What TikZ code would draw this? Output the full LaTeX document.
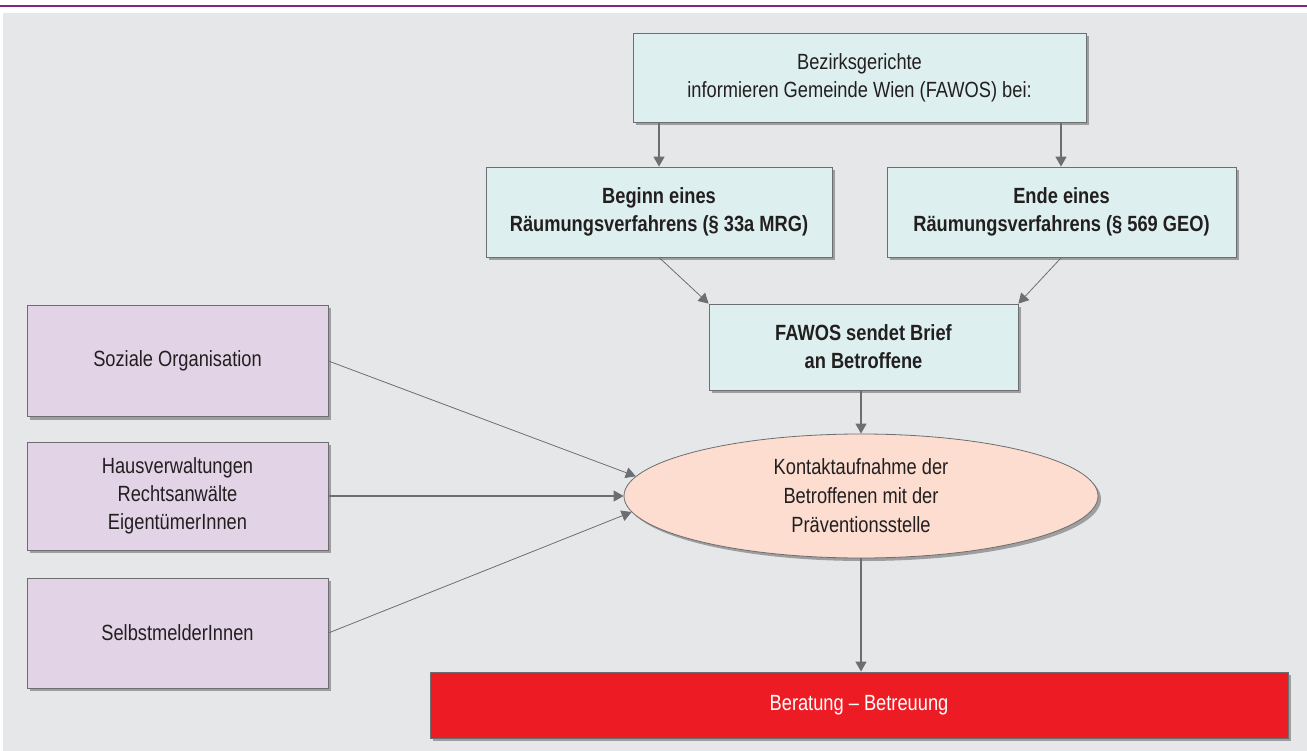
\documentclass[tikz,border=0pt]{standalone}
\usepackage{fontspec}
\setmainfont{Liberation Sans}[FakeStretch=0.83]
\usetikzlibrary{arrows.meta,shapes.geometric,shadows}
\definecolor{bg}{HTML}{E6E7E8}
\definecolor{cyanbox}{HTML}{DDF0EF}
\definecolor{purplebox}{HTML}{E3D3E6}
\definecolor{peach}{HTML}{FCDDD0}
\definecolor{redbox}{HTML}{ED1C24}
\definecolor{edge}{HTML}{6D6E71}
\definecolor{txt}{HTML}{231F20}
\definecolor{topline}{HTML}{84257F}
\tikzset{
  shad/.style={drop shadow={shadow xshift=3pt,shadow yshift=-3pt,fill=black!45,opacity=0.8}},
  cbox/.style={draw=edge,line width=0.8pt,fill=cyanbox,shad,inner sep=0pt,align=center,text=txt,font=\fontsize{22}{28}\selectfont},
  pbox/.style={draw=edge,line width=0.8pt,fill=purplebox,shad,inner sep=0pt,align=center,text=txt,font=\fontsize{22}{28}\selectfont},
  boldtxt/.style={font=\fontsize{22}{28}\selectfont\bfseries},
  arr/.style={draw=edge,line width=1.4pt,-{Triangle[width=11pt,length=10pt]}},
  thinarr/.style={draw=edge,line width=0.8pt,-{Triangle[width=11pt,length=10pt]}},
}
\begin{document}
\begin{tikzpicture}[x=1pt,y=-1pt]
\useasboundingbox (0,0) rectangle (1307,751);
\fill[white] (0,0) rectangle (1307,751);
\fill[bg] (3,13) rectangle (1307,751);
\draw[topline,line width=2pt] (0,6) -- (1307,6);
% top box
\node[cbox,minimum width=453pt,minimum height=89pt] (top) at (859.5,77.5) {Bezirksgerichte\\informieren Gemeinde Wien (FAWOS) bei:};
\node[cbox,boldtxt,minimum width=346pt,minimum height=90pt] (beg) at (659,212) {Beginn eines\\Räumungsverfahrens (§ 33a MRG)};
\node[cbox,boldtxt,minimum width=349pt,minimum height=90pt] (end) at (1061.5,212) {Ende eines\\Räumungsverfahrens (§ 569 GEO)};
\node[cbox,boldtxt,minimum width=309pt,minimum height=86pt] (fawos) at (863.5,347) {FAWOS sendet Brief\\an Betroffene};
\node[ellipse,draw=edge,line width=0.8pt,fill=peach,shad,inner sep=0pt,minimum width=474pt,minimum height=124pt,align=center,text=txt,font=\fontsize{22}{29}\selectfont] (kontakt) at (861,496) {Kontaktaufnahme der\\Betroffenen mit der\\Präventionsstelle};
\node[draw=edge,line width=0.8pt,fill=redbox,shad,inner sep=0pt,minimum width=858pt,minimum height=66pt,text=white,font=\fontsize{22}{28}\selectfont] (ber) at (859,705) {Beratung -- Betreuung};
\node[pbox,minimum width=301pt,minimum height=111pt] (soz) at (177.5,361) {Soziale Organisation};
\node[pbox,minimum width=301pt,minimum height=108pt] (haus) at (177.5,496) {Hausverwaltungen\\Rechtsanwälte\\EigentümerInnen};
\node[pbox,minimum width=301pt,minimum height=110pt] (selbst) at (177.5,633) {SelbstmelderInnen};
% arrows
\draw[arr] (top.south -| 659,0) -- (beg.north -| 659,0);
\draw[arr] (top.south -| 1061,0) -- (end.north -| 1061,0);
\draw[thinarr] (beg.south) -- (fawos.north west);
\draw[thinarr] (end.south) -- (fawos.north east);
\draw[arr] (fawos.south -| kontakt.north) -- (kontakt.north);
\draw[arr] (kontakt.south) -- (ber.north -| kontakt.south);
\draw[thinarr] (soz.east) -- (kontakt.175.5);
\draw[arr] (haus.east) -- (kontakt.west);
\draw[thinarr] (selbst.east) -- (kontakt.184.5);
\end{tikzpicture}
\end{document}
